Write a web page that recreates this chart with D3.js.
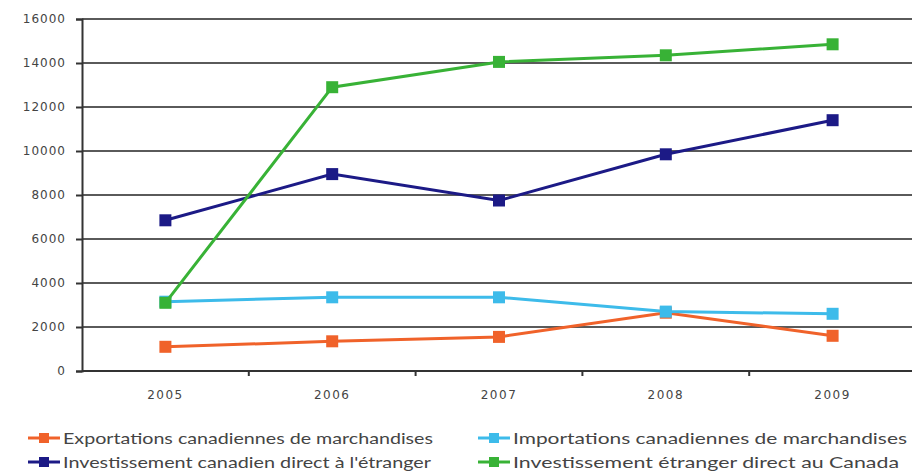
<!DOCTYPE html>
<html><head><meta charset="utf-8">
<script src="https://cdn.jsdelivr.net/npm/d3@7"></script>
<style>body{margin:0;background:#fff}svg{display:block}text{font-family:"DejaVu Sans","Lato",sans-serif}</style>
</head><body><svg id="c" width="912" height="474"></svg>
<script>
const years = ["2005","2006","2007","2008","2009"];
const yTicks = [0,2000,4000,6000,8000,10000,12000,14000,16000];
const exportations = [1100,1350,1550,2650,1600];
const importations = [3150,3350,3350,2700,2600];
const investCanadien = [6850,8950,7750,9850,11400];
const investEtranger = [3100,12900,14050,14350,14850];
const seriesNames = ["Exportations canadiennes de marchandises","Importations canadiennes de marchandises","Investissement canadien direct à l'étranger","Investissement étranger direct au Canada"];
const seriesColors = ["#f0622a","#3dbbea","#1c1a86","#38b236"];
const series = [exportations, importations, investCanadien, investEtranger];

(function(){
const svg = d3.select("#c");
const mLeft = 82, mRight = 916, mTop = 19, mBottom = 371;
const x = d3.scaleBand().domain(years).range([mLeft, mRight]);
const y = d3.scaleLinear().domain([0,16000]).range([mBottom, mTop]);

svg.append("g").selectAll("line").data(yTicks.filter(d=>d>0)).join("line")
  .attr("x1", mLeft).attr("x2", 912).attr("y1", d=>y(d)).attr("y2", d=>y(d))
  .attr("stroke","#5a5a5a").attr("stroke-width",2);

const ya = svg.append("g").attr("transform",`translate(${mLeft},0)`)
  .call(d3.axisLeft(y).tickValues(yTicks).tickSize(6).tickPadding(10).tickFormat(d3.format("d")));
ya.select(".domain").attr("stroke","#333").attr("stroke-width",2);
ya.selectAll(".tick line").attr("stroke","#333").attr("stroke-width",2);
ya.selectAll("text").attr("font-size",12).attr("letter-spacing","1px").attr("fill","#444");

const xa = svg.append("g").attr("transform",`translate(0,${mBottom})`)
  .call(d3.axisBottom(x).tickSize(0).tickPadding(19));
xa.select(".domain").attr("d",`M${mLeft},0H912`).attr("stroke","#333").attr("stroke-width",2);
xa.selectAll("text").attr("font-size",12).attr("letter-spacing","1.5px").attr("fill","#444");
svg.append("g").selectAll("line").data(years.slice(1)).join("line")
  .attr("x1", d=>x(d)).attr("x2", d=>x(d)).attr("y1", mBottom).attr("y2", mBottom+5)
  .attr("stroke","#333").attr("stroke-width",2);

const line = d3.line().x((d,i)=>x(years[i])+x.bandwidth()/2).y(d=>y(d));
const ms = 12;
series.forEach((s,k)=>{
  const g = svg.append("g");
  g.append("path").attr("d", line(s)).attr("fill","none").attr("stroke",seriesColors[k]).attr("stroke-width",3);
  g.selectAll("rect").data(s).join("rect")
    .attr("x",(d,i)=>x(years[i])+x.bandwidth()/2-ms/2).attr("y",d=>y(d)-ms/2)
    .attr("width",ms).attr("height",ms).attr("fill",seriesColors[k]);
});

const legPos = [[28,438],[478,438],[28,462],[478,462]];
const legWidths = [370,394,368,386];
seriesNames.forEach((n,k)=>{
  const [lx,ly] = legPos[k];
  const g = svg.append("g").attr("transform",`translate(${lx},${ly})`);
  g.append("line").attr("x1",0).attr("x2",32).attr("y1",0).attr("y2",0).attr("stroke",seriesColors[k]).attr("stroke-width",3);
  g.append("rect").attr("x",11).attr("y",-5).attr("width",10).attr("height",10).attr("fill",seriesColors[k]);
  g.append("text").attr("x",35).attr("y",0).attr("dy","0.35em").attr("font-size",16)
    .style("font-family","Lato, sans-serif")
    .attr("textLength",legWidths[k]).attr("lengthAdjust","spacingAndGlyphs").attr("fill","#444").text(n);
});
})();
</script></body></html>
